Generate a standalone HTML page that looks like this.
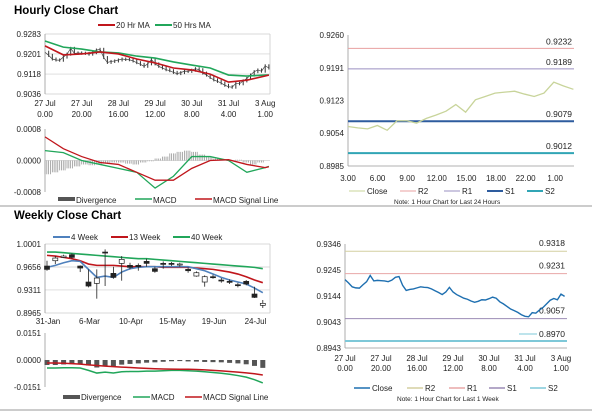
<!DOCTYPE html>
<html><head><meta charset="utf-8"><style>
body{margin:0;background:#fff;width:600px;height:413px;overflow:hidden;font-family:"Liberation Sans",sans-serif}
svg text{font-family:"Liberation Sans",sans-serif}
</style></head><body>
<svg id="c" width="600" height="413" xmlns="http://www.w3.org/2000/svg">
<text x="14" y="14" font-size="11.5" font-weight="bold">Hourly Close Chart</text>
<text x="14" y="219" font-size="11.5" font-weight="bold">Weekly Close Chart</text>
<line x1="0" y1="206" x2="592" y2="206" stroke="#999" stroke-width="1"/>
<line x1="0" y1="410" x2="592" y2="410" stroke="#999" stroke-width="1"/>
</svg>
<script>
const hIdx=[0,5,10,15,20,25,30,35,40,45,50,55,60,61];
const hClose=[.9208,.9195,.9180,.9176,.9175,.9188,.9200,.9224,.9203,.9205,.9204,.9203,.9200,.9206,.9217,.9220,.9186,.9166,.9170,.9172,.9176,.9180,.9178,.9177,.9172,.9165,.9158,.9150,.9160,.9178,.9160,.9150,.9143,.9136,.9132,.9125,.9120,.9124,.9130,.9129,.9134,.9140,.9136,.9122,.9114,.9104,.9094,.9088,.9081,.9072,.9066,.9064,.9080,.9078,.9090,.9100,.9114,.9128,.9135,.9130,.9152,.9143];
const hMA20=[.9234,.9197,.9201,.9209,.9201,.9180,.9164,.9143,.9135,.9118,.9085,.9093,.9110,.9114];
const hMA50=[.9254,.9229,.9221,.9209,.9205,.9192,.9184,.9168,.9155,.9143,.9114,.9110,.9114,.9114];
const hMACD=[.00025,.0002,0,-.0001,-.0002,-.0003,-.0007,-.0004,.0001,.0001,0,-.0003,-.00018,-.00015];
const hSignal=[.0006,.0003,.0001,-.00005,-.0001,-.0003,-.0005,-.0005,-.0002,0,.00002,-.0001,-.00018,-.00016];
const hDiv=[-.00035,-.0003,-.00025,-.0002,-.00015,-.0001,-.00012,-.0001,-.00008,-.00005,-.00005,-.00008,-.0001,-.00005,-.00002,.00005,.0001,.00018,.00022,.00025,.00022,.00015,.0001,.00005,.00002,0,.00002,-.00005,-.0001,-.00005,0];
const hTickX=[0,10,20,30,40,50,60];
const hTickL1=["27 Jul","27 Jul","28 Jul","29 Jul","30 Jul","31 Jul","3 Aug"];
const hTickL2=["0.00","20.00","16.00","12.00","8.00","4.00","1.00"];
const dClose=[.9068,.9065,.9063,.9070,.9060,.9080,.9080,.9075,.9085,.9092,.9100,.9114,.9098,.9124,.9131,.9138,.9140,.9142,.9136,.9131,.9138,.9161,.9153,.9146];
const dTicks=["3.00","6.00","9.00","12.00","15.00","18.00","22.00","1.00"];
const dLevels=[.9232,.9189,.9079,.9012];
const wLevels=[.9318,.9231,.9057,.8970];
const wOpen=[.967,.975,.980,.984,.967,.943,.941,.988,.956,.971,.968,.968,.974,.963,.971,.971,.969,.962,.952,.943,.951,.946,.944,.939,.944,.925,.908];
const wClose=[.962,.979,.982,.980,.964,.937,.949,.987,.950,.977,.965,.966,.971,.959,.970,.970,.970,.960,.957,.951,.950,.945,.943,.938,.940,.920,.911];
const wHigh=[.975,.982,.984,.986,.968,.962,.962,.992,.966,.982,.972,.971,.978,.966,.974,.973,.972,.965,.959,.953,.954,.949,.947,.942,.946,.936,.916];
const wLow=[.960,.970,.979,.978,.958,.935,.918,.937,.948,.945,.962,.960,.966,.957,.963,.967,.966,.957,.951,.936,.948,.942,.940,.935,.938,.919,.904];
const w4=[.965,.968,.972,.975,.974,.962,.950,.952,.950,.958,.963,.965,.966,.966,.966,.966,.966,.966,.963,.960,.955,.950,.946,.943,.940,.934,.927];
const w13=[.983,.982,.980,.978,.975,.970,.968,.968,.968,.967,.966,.966,.966,.966,.965,.965,.965,.965,.964,.963,.962,.960,.958,.955,.951,.946,.942];
const w40=[.988,.988,.987,.986,.985,.984,.983,.982,.981,.980,.979,.978,.978,.977,.976,.975,.974,.973,.972,.971,.970,.969,.968,.967,.966,.965,.963];
const wMACD=[-.0045,-.0045,-.0043,-.0043,-.0045,-.0058,-.0073,-.0068,-.0073,-.0066,-.0064,-.0064,-.0062,-.0062,-.0060,-.0058,-.0058,-.0060,-.0062,-.0066,-.0070,-.0074,-.0080,-.0087,-.0096,-.0110,-.0128];
const wSignal=[-.0017,-.0017,-.0018,-.0020,-.0023,-.0027,-.0031,-.0034,-.0037,-.0040,-.0042,-.0045,-.0047,-.0049,-.0050,-.0051,-.0052,-.0052,-.0053,-.0055,-.0058,-.0061,-.0064,-.0068,-.0072,-.0077,-.0084];
const wDiv=[-.0028,-.0028,-.0025,-.0023,-.0022,-.0031,-.0042,-.0034,-.0036,-.0026,-.0022,-.0019,-.0015,-.0013,-.0010,-.0007,-.0006,-.0008,-.0009,-.0011,-.0012,-.0013,-.0016,-.0019,-.0024,-.0033,-.0044];
const wTickIdx=[0,5,10,15,20,25];
const wTickL=["31-Jan","6-Mar","10-Apr","15-May","19-Jun","24-Jul"];

const S=document.getElementById('c');const NS='http://www.w3.org/2000/svg';
function mk(t,a){const e=document.createElementNS(NS,t);for(const k in a)e.setAttribute(k,a[k]);S.appendChild(e);return e;}
function txt(x,y,s,sz,anchor){const e=mk('text',{x:x,y:y,'font-size':sz||8,'text-anchor':anchor||'start',fill:'#222'});e.textContent=s;return e;}
function lin(x1,y1,x2,y2,c,w){return mk('line',{x1:x1,y1:y1,x2:x2,y2:y2,stroke:c,'stroke-width':w||1});}
function poly(pts,c,w){return mk('polyline',{points:pts.map(p=>p.join(',')).join(' '),fill:'none',stroke:c,'stroke-width':w||1.5});}
function sc(v0,v1,p0,p1){return v=>p0+(v-v0)/(v1-v0)*(p1-p0);}

// ---- Hourly top-left
const hx=i=>45+i*3.67;
const hy=sc(.9036,.9283,94,34);
[.9283,.9201,.9118,.9036].forEach(v=>{const g=lin(45,hy(v),270,hy(v),'#ccc',0.7);

const t=txt(41,hy(v)+3,v.toFixed(4),8,'end');
});
let a=lin(45,34,45,94,'#999',0.8);
a=lin(270,34,270,94,'#ccc',0.8);
hTickX.forEach((ix,k)=>{let t=txt(hx(ix),106,hTickL1[k],8,'middle');
t=txt(hx(ix),117,hTickL2[k],8,'middle');});
hClose.forEach((v,i)=>{if(i==0)return;const x=hx(i);const y0=hy(hClose[i-1]),y1=hy(v);
const e=lin(x,Math.min(y0,y1)-1.5,x,Math.max(y0,y1)+1.5,'#333',1);
});
let p=poly(hClose.map((v,i)=>[hx(i),hy(v)]),'#444',0.7);
p=poly(hMA50.map((v,k)=>[hx(hIdx[k]),hy(v)]),'#21a65a',1.6);
p=poly(hMA20.map((v,k)=>[hx(hIdx[k]),hy(v)]),'#c0161c',1.6);
a=lin(98,25,115,25,'#c0161c',2);
a=txt(116,28,'20 Hr MA',8);
a=lin(155,25,172,25,'#21a65a',2);
a=txt(173,28,'50 Hrs MA',8);
// hourly MACD
const my=sc(-.0008,.0008,192,129);
[.0008,0,-.0008].forEach(v=>{const t=txt(41,my(v)+3,v.toFixed(4),8,'end');});
a=lin(45,129,45,192,'#999',0.8);
a=lin(45,my(0),270,my(0),'#bbb',0.6);
hDiv.forEach((v,k)=>{for(let j=0;j<4;j++){const x=hx(k*2)+j*1.8;const e=lin(x,my(0),x,my(v),'#999',0.8);
}});
p=poly(hMACD.map((v,k)=>[hx(hIdx[k]),my(v)]),'#21a65a',1.3);
p=poly(hSignal.map((v,k)=>[hx(hIdx[k]),my(v)]),'#c0161c',1.3);
a=mk('rect',{x:58,y:197,width:17,height:4,fill:'#555'});
a=txt(76,203,'Divergence',8);
a=lin(135,199,152,199,'#21a65a',1.5);
a=txt(153,203,'MACD',8);
a=lin(195,199,212,199,'#c0161c',1.5);
a=txt(213,203,'MACD Signal Line',8);

// ---- Daily (top-right)
const dx=i=>348+i*9.8;
const dy=sc(.8985,.9260,166,35);
[.9260,.9191,.9123,.9054,.8985].forEach(v=>{const t=txt(344,dy(v)+3,v.toFixed(4),8,'end');});
a=lin(348,35,348,166,'#999',0.8);
a=lin(348,166,574,166,'#999',0.8);
dTicks.forEach((s,k)=>{const t=txt(348+k*29.6,181,s,8,'middle');});
const dCol=['#e8a0a0','#9a8fc0','#2e5c9e','#31a5b5'],dW=[1,1,2,2],dNm=['r2','r1','s1','s2'];
dLevels.forEach((v,k)=>{const e=lin(348,dy(v),574,dy(v),dCol[k],dW[k]);
const t=txt(572,dy(v)-4,v.toFixed(4),8.5,'end');});
p=poly(dClose.map((v,i)=>[dx(i),dy(v)]),'#c8d49a',1.3);
const lgD=[['Close','#c8d49a',1,367],['R2','#e8a0a0',1,418],['R1','#9a8fc0',1,462],['S1','#2e5c9e',2,505],['S2','#31a5b5',2,545]];
lgD.forEach(l=>{const e=lin(l[3]-18,191,l[3]-2,191,l[1],l[2]);
const t=txt(l[3],194,l[0],8);});
a=txt(394,204,'Note: 1 Hour Chart for Last 24 Hours',6.5);

// ---- Weekly (bottom-left)
const wx=i=>47+i*8.3;
const wy=sc(.8965,1.0001,313,244);
[1.0001,.9656,.9311,.8965].forEach(v=>{const g=lin(45,wy(v),270,wy(v),'#ccc',0.7);
const t=txt(41,wy(v)+3,v.toFixed(4),8,'end');});
a=lin(45,244,45,313,'#999',0.8);
a=lin(270,244,270,313,'#ccc',0.8);
wTickIdx.forEach((ix,k)=>{const t=txt(wx(ix)+1,324,wTickL[k],8,'middle');});
p=poly(w40.map((v,i)=>[wx(i),wy(v)]),'#21a65a',1.6);
p=poly(w13.map((v,i)=>[wx(i),wy(v)]),'#c0161c',1.6);
p=poly(w4.map((v,i)=>[wx(i),wy(v)]),'#4f81bd',1.6);
wOpen.forEach((o,i)=>{const c=wClose[i],x=wx(i);const w=lin(x,wy(wHigh[i]),x,wy(wLow[i]),'#222',0.8);

const top=wy(Math.max(o,c)),h=Math.max(1,Math.abs(wy(o)-wy(c)));
const r=mk('rect',{x:x-2.5,y:top,width:5,height:h,fill:c<o?'#222':'#fff',stroke:'#222','stroke-width':0.7});
});
const lgW=[['4 Week','#4f81bd',70],['13 Week','#c0161c',128],['40 Week','#21a65a',190]];
lgW.forEach(l=>{const e=lin(l[2]-17,237,l[2],237,l[1],2);
const t=txt(l[2]+1,240,l[0],8);});
// weekly MACD
const wm=sc(-.0151,.0151,387,333);
[.0151,0,-.0151].forEach(v=>{const t=txt(41,wm(v)+3,v.toFixed(4),8,'end');});
a=lin(45,333,45,387,'#999',0.8);
wDiv.forEach((v,i)=>{const r=mk('rect',{x:wx(i)-2.5,y:wm(0),width:5,height:wm(v)-wm(0),fill:'#555'});
});
p=poly(wMACD.map((v,i)=>[wx(i),wm(v)]),'#21a65a',1.5);
p=poly(wSignal.map((v,i)=>[wx(i),wm(v)]),'#c0161c',1.5);
a=mk('rect',{x:63,y:395,width:17,height:4,fill:'#555'});
a=txt(81,400,'Divergence',8);
a=lin(133,397,150,397,'#21a65a',1.5);
a=txt(151,400,'MACD',8);
a=lin(185,397,202,397,'#c0161c',1.5);
a=txt(203,400,'MACD Signal Line',8);

// ---- Last week (bottom-right)
const bx=i=>345+i*3.6;
const by=sc(.8943,.9346,348,244);
[.9346,.9245,.9144,.9043,.8943].forEach(v=>{const t=txt(341,by(v)+3,v.toFixed(4),8,'end');});
a=lin(345,244,345,348,'#999',0.8);
a=lin(345,348,567,348,'#999',0.8);
hTickX.forEach((ix,k)=>{let t=txt(bx(ix),361,hTickL1[k],8,'middle');
t=txt(bx(ix),371,hTickL2[k],8,'middle');});
const bCol=['#d4cfa0','#e8a7a7','#9b8bb5','#7ec8d8'],bW=[1,1,1,2];
wLevels.forEach((v,k)=>{const e=lin(345,by(v),567,by(v),bCol[k],bW[k]);
const ly=(k==3)?337:by(v)-5;
const t=txt(565,ly,v.toFixed(4),8.5,'end');});
a=lin(519,334,537,334,'#7ec8d8',1);
p=poly(hClose.map((v,i)=>[bx(i),by(v)]),'#1e6fb0',1.4);
const lgB=[['Close','#1e6fb0',372],['R2','#d4cfa0',425],['R1','#e8a7a7',467],['S1','#9b8bb5',507],['S2','#7ec8d8',548]];
lgB.forEach(l=>{const e=lin(l[2]-18,388,l[2]-2,388,l[1],1.5);
const t=txt(l[2],391,l[0],8);});
a=txt(397,401,'Note: 1 Hour Chart for Last 1 Week',6.5);
</script>
</body></html>
